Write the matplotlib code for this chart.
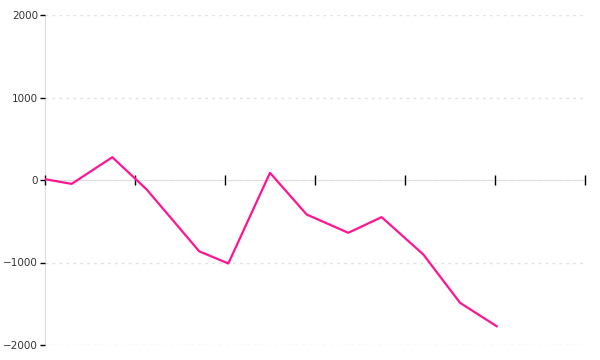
import matplotlib
matplotlib.use("Agg")
import matplotlib.pyplot as plt

# x positions (in tick units) and values
x_vals = [0, 0.296, 0.748, 1.13, 1.714, 2.037, 2.5, 2.907, 3.37, 3.74, 4.204, 4.611, 5.019]
y_vals = [10, -47, 276, -115, -865, -1012, 87, -418, -640, -450, -903, -1488, -1773]
x_ticks = [0, 1, 2, 3, 4, 5, 6]
y_ticks = [-2000, -1000, 0, 1000, 2000]

fig = plt.figure(figsize=(6, 3.6), dpi=100)
ax = fig.add_axes([0.075, 15 / 360, 0.9, 330 / 360])

ax.plot(x_vals, y_vals, color='#ff1493', linewidth=1.6, zorder=3)

ax.set_xlim(0, 6)
ax.set_ylim(-2000, 2000)
ax.set_xticks(x_ticks)
ax.set_xticklabels([])
ax.set_yticks(y_ticks)

# dashed horizontal grid
ax.yaxis.grid(True, color='#e2e2e2', linestyle=(0, (2, 3)), linewidth=1)
ax.set_axisbelow(True)

for s in ['top', 'right']:
  ax.spines[s].set_visible(False)
ax.spines['left'].set_color('#dddddd')
ax.spines['bottom'].set_color('#dddddd')
ax.spines['bottom'].set_position(('data', 0))
ax.spines['left'].set_zorder(0.5)
ax.spines['bottom'].set_zorder(0.5)

ax.tick_params(axis='x', direction='inout', length=7, width=1, color='black')
ax.tick_params(axis='y', direction='out', length=3.6, width=1, color='black',
               labelsize=7.5, labelcolor='#333333', pad=1.5)
for t in ax.xaxis.get_major_ticks() + ax.yaxis.get_major_ticks():
  t.tick1line.set_zorder(4)

plt.savefig('out.png', dpi=100)
plt.close()
